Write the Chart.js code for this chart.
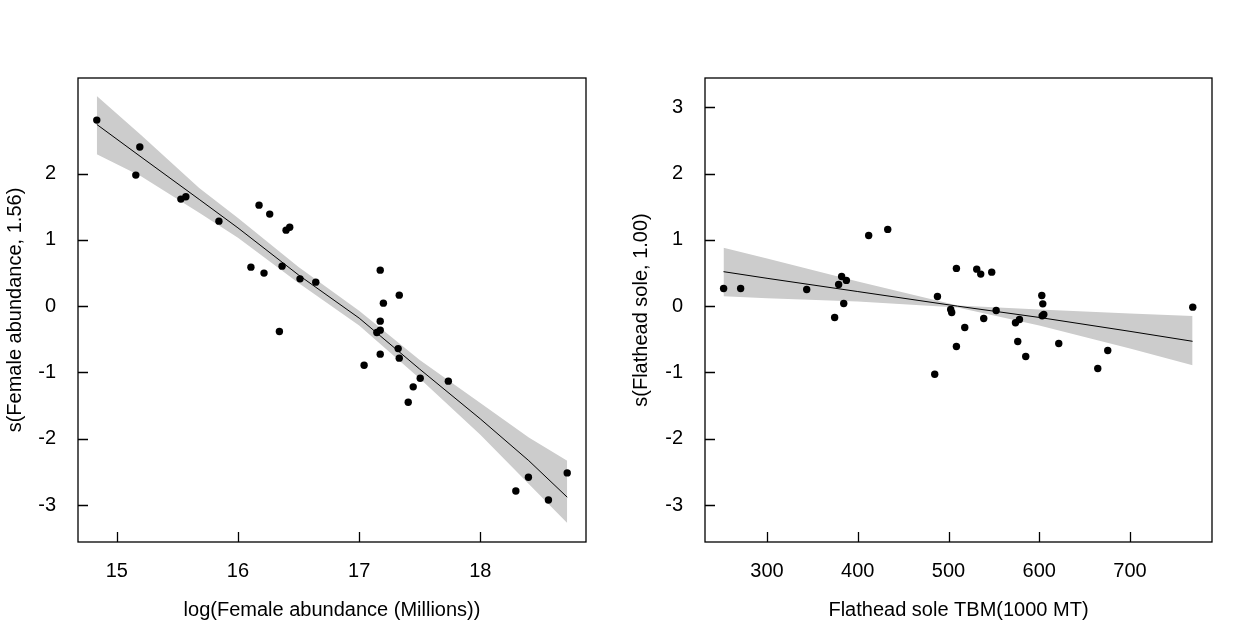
<!DOCTYPE html>
<html>
<head>
<meta charset="utf-8">
<script src="https://cdn.jsdelivr.net/npm/chart.js@4.4.1/dist/chart.umd.min.js"></script>
<style>
	html, body { margin: 0; padding: 0; background: #ffffff; }
	#wrap { position: relative; width: 1253px; height: 640px; }
	canvas { position: absolute; top: 0; }
	#leftChart { left: 0; }
	#rightChart { left: 626px; }
</style>
</head>
<body>
<div id="wrap">
	<canvas id="leftChart" width="626" height="640"></canvas>
	<canvas id="rightChart" width="626" height="640"></canvas>
</div>
<script>
// Left panel: female abundance
const femaleX = [14.835, 15.19, 15.157, 15.529, 15.57, 15.843, 16.174, 16.262, 16.397, 16.427, 16.107, 16.215, 16.364, 16.512, 16.642, 16.342, 17.174, 17.331, 17.2, 17.174, 17.174, 17.146, 17.322, 17.331, 17.174, 17.041, 17.504, 17.736, 17.446, 17.405, 18.717, 18.397, 18.293, 18.562];
const femaleY = [2.805, 2.4, 1.976, 1.614, 1.649, 1.282, 1.523, 1.388, 1.146, 1.19, 0.588, 0.498, 0.603, 0.412, 0.362, -0.382, 0.543, 0.166, 0.045, -0.226, -0.362, -0.398, -0.64, -0.784, -0.724, -0.89, -1.086, -1.131, -1.217, -1.448, -2.514, -2.58, -2.786, -2.922];
const femaleFitX = [14.835, 15.2, 15.68, 16.0, 16.5, 17.0, 17.5, 18.0, 18.4, 18.717];
const femaleFit = [2.74, 2.25, 1.61, 1.18, 0.47, -0.18, -0.95, -1.7, -2.33, -2.88];
const femaleUpper = [3.17, 2.58, 1.78, 1.33, 0.59, -0.07, -0.81, -1.46, -1.98, -2.33];
const femaleLower = [2.29, 1.96, 1.41, 1.03, 0.35, -0.29, -1.09, -1.94, -2.68, -3.27];
const femaleXTicks = [15, 16, 17, 18];
const femaleYTicks = [-3, -2, -1, 0, 1, 2];

// Right panel: flathead sole biomass
const soleX = [252.1, 270.9, 343.7, 374.5, 378.9, 382.2, 387.4, 384.5, 412, 433, 484.8, 487.8, 502.4, 503.5, 508.7, 508.7, 531.1, 535.5, 547.6, 538.8, 517.9, 552.5, 573.8, 578.2, 576.3, 585.1, 602.8, 603.9, 605, 603.2, 621.5, 664.5, 675.5, 769.2];
const soleY = [0.267, 0.267, 0.252, -0.17, 0.327, 0.448, 0.388, 0.04, 1.066, 1.157, -1.026, 0.146, -0.05, -0.095, 0.569, -0.608, 0.558, 0.483, 0.513, -0.186, -0.321, -0.065, -0.251, -0.201, -0.533, -0.759, 0.161, 0.035, -0.125, -0.146, -0.563, -0.94, -0.668, -0.015];
const soleFitX = [252, 300, 400, 510, 600, 700, 769];
const soleFit = [0.52, 0.42, 0.22, 0.0, -0.17, -0.38, -0.53];
const soleUpper = [0.88, 0.72, 0.37, 0.01, -0.05, -0.11, -0.15];
const soleLower = [0.15, 0.12, 0.07, -0.02, -0.29, -0.64, -0.89];
const soleXTicks = [300, 400, 500, 600, 700];
const soleYTicks = [-3, -2, -1, 0, 1, 2, 3];

const FONT = { family: '"Liberation Sans", Arial, sans-serif', size: 20 };
const BAND = '#cccccc';

function zipPoints(xs, ys) {
	return xs.map((x, i) => ({ x: x, y: ys[i] }));
}

const frameAndTicks = {
	id: 'frameAndTicks',
	afterDraw(chart) {
		const ctx = chart.ctx;
		const area = chart.chartArea;
		const xScale = chart.scales.x;
		const yScale = chart.scales.y;

		ctx.save();
		ctx.strokeStyle = '#000000';
		ctx.lineWidth = 1.3;
		ctx.strokeRect(area.left, area.top, area.right - area.left, area.bottom - area.top);

		ctx.beginPath();
		xScale.ticks.forEach((tick) => {
			const px = Math.round(xScale.getPixelForValue(tick.value)) + 0.5;
			ctx.moveTo(px, area.bottom);
			ctx.lineTo(px, area.bottom - 10);
		});
		yScale.ticks.forEach((tick) => {
			const py = Math.round(yScale.getPixelForValue(tick.value)) + 0.5;
			ctx.moveTo(area.left, py);
			ctx.lineTo(area.left + 10, py);
		});
		ctx.stroke();
		ctx.restore();
	}
};

function buildPanel(canvasId, panel) {
	const datasets = [
		{
			data: zipPoints(panel.x, panel.y),
			backgroundColor: '#000000',
			borderWidth: 0,
			pointRadius: 3.7,
			order: 0
		},
		{
			data: zipPoints(panel.fitX, panel.fit),
			showLine: true,
			borderColor: '#000000',
			borderWidth: 1,
			pointRadius: 0,
			fill: false,
			order: 1
		},
		{
			data: zipPoints(panel.fitX, panel.upper),
			showLine: true,
			borderWidth: 0,
			borderColor: 'rgba(0,0,0,0)',
			pointRadius: 0,
			fill: false,
			order: 2
		},
		{
			data: zipPoints(panel.fitX, panel.lower),
			showLine: true,
			borderWidth: 0,
			borderColor: 'rgba(0,0,0,0)',
			backgroundColor: BAND,
			pointRadius: 0,
			fill: '-1',
			order: 3
		}
	];

	return new Chart(document.getElementById(canvasId).getContext('2d'), {
		type: 'scatter',
		data: { datasets: datasets },
		plugins: [frameAndTicks],
		options: {
			responsive: false,
			animation: false,
			layout: { padding: { top: 78, right: 40, bottom: 0, left: 0 } },
			plugins: {
				legend: { display: false },
				tooltip: { enabled: false }
			},
			scales: {
				x: {
					type: 'linear',
					min: panel.xMin,
					max: panel.xMax,
					border: { display: false },
					grid: { display: false, drawTicks: false },
					ticks: { color: '#000000', font: FONT, padding: 17, maxRotation: 0 },
					afterBuildTicks: (scale) => {
						scale.ticks = panel.xTicks.map((v) => ({ value: v }));
					},
					afterFit: (scale) => {
						scale.height = 98;
					},
					title: {
						display: true,
						text: panel.xTitle,
						color: '#000000',
						font: FONT,
						padding: { top: 0, bottom: 18 }
					}
				},
				y: {
					type: 'linear',
					min: -3.556,
					max: 3.44,
					border: { display: false },
					grid: { display: false, drawTicks: false },
					ticks: { color: '#000000', font: FONT, padding: 22 },
					afterBuildTicks: (scale) => {
						scale.ticks = panel.yTicks.map((v) => ({ value: v }));
					},
					afterFit: (scale) => {
						scale.width = panel.yWidth;
					},
					title: {
						display: true,
						text: panel.yTitle,
						color: '#000000',
						font: FONT,
						padding: { top: 3, bottom: 0 }
					}
				}
			}
		}
	});
}

buildPanel('leftChart', {
	x: femaleX,
	y: femaleY,
	fitX: femaleFitX,
	fit: femaleFit,
	upper: femaleUpper,
	lower: femaleLower,
	xTicks: femaleXTicks,
	yTicks: femaleYTicks,
	xMin: 14.68,
	xMax: 18.872,
	yWidth: 78,
	xTitle: 'log(Female abundance (Millions))',
	yTitle: 's(Female abundance, 1.56)'
});

buildPanel('rightChart', {
	x: soleX,
	y: soleY,
	fitX: soleFitX,
	fit: soleFit,
	upper: soleUpper,
	lower: soleLower,
	xTicks: soleXTicks,
	yTicks: soleYTicks,
	xMin: 231.6,
	xMax: 790.4,
	yWidth: 79,
	xTitle: 'Flathead sole TBM(1000 MT)',
	yTitle: 's(Flathead sole, 1.00)'
});
</script>
</body>
</html>
